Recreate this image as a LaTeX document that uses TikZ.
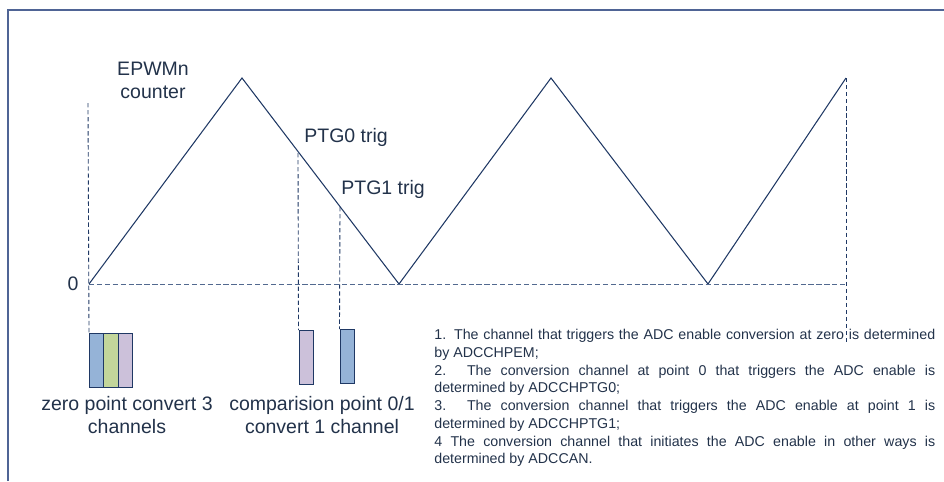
\documentclass[tikz,border=0pt]{standalone}
\usepackage{fontspec}
\setmainfont{Liberation Sans}
\usetikzlibrary{positioning}
\definecolor{navy}{HTML}{1F3864}
\definecolor{txt}{HTML}{22324A}
\definecolor{framec}{HTML}{4F6495}
\definecolor{zeroc}{HTML}{52698F}
\definecolor{chblue}{HTML}{95B3D7}
\definecolor{chgreen}{HTML}{C3D69B}
\definecolor{chlilac}{HTML}{CCC1DA}
\newcommand\nohyphens{\hyphenpenalty=10000 \exhyphenpenalty=10000\relax}

\begin{document}
\begin{tikzpicture}[x=0.02cm, y=-0.02cm, font=\fontsize{11.1}{13}\selectfont, text=txt,
        wave/.style={draw=navy, line width=0.6pt},
        guide/.style={draw=navy, line width=0.5pt, dash pattern=on 2.5pt off 1.5pt},
        chan/.style={draw=navy, line width=0.6pt, minimum width=0.286cm, minimum height=1.08cm, anchor=north west, inner sep=0pt}]
        \useasboundingbox (0,0) rectangle (944,481);
        \draw[framec, line width=0.8pt] (8,481) -- (8,10) -- (944,10);
        % counter wave
        \foreach \n/\x/\y in {z0/89/284,p1/242/78,z1/399/284,p2/551/78,z2/708/284,p3/846/78}{\coordinate (\n) at (\x,\y);}
        \draw[wave] (z0) -- (p1) -- (z1) -- (p2) -- (z2) -- (p3);
        \coordinate (zend) at (p3 |- z0);
        \draw[guide, draw=zeroc, dash pattern=on 3pt off 1.5pt] (z0) -- (zend);
        % trigger points
        \coordinate (top0) at (88,103);
        \coordinate (t0) at (298,153);
        \coordinate (t1) at (340,207);
        \coordinate (tend) at (846,343);
        % converted channels
        \foreach \i/\x/\c in {1/89/chblue,2/103.3/chgreen,3/117.6/chlilac}{\node[chan, fill=\c] (zc\i) at (\x,333) {};}
        \node[chan, fill=chlilac] (pc0) at (298.5,330) {};
        \node[chan, fill=chblue] (pc1) at (339.5,329) {};
        \draw[guide] (top0) -- (zc1.north west);
        \draw[guide] (t0) -- (pc0.north west);
        \draw[guide] (t1) -- (pc1.north west);
        \draw[guide] (p3) -- (tend);
        % labels
        \node[align=center] (epwm) at (153,80) {EPWMn\\counter};
        \node[anchor=west, inner sep=0pt] (ptg0) at (304,137) {PTG0 trig};
        \node[anchor=west, inner sep=0pt] (ptg1) at (341,189) {PTG1 trig};
        \node (zero) at (73,284) {0};
        \node[align=center] (zlabel) at (127,415) {zero point convert 3\\channels};
        \node[align=center] (plabel) at (322,415) {comparision point 0/1\\convert 1 channel};
        \node[anchor=north west, inner sep=0pt, text width=10.02cm, align=justify, font=\fontsize{8.1}{10.1}\selectfont\nohyphens] (notes) at (434,329) {1. The channel that triggers the ADC enable conversion at zero is determined\linebreak by ADCCHPEM;\par
        2. The conversion channel at point 0 that triggers the ADC enable is\linebreak determined by ADCCHPTG0;\par
        3. The conversion channel that triggers the ADC enable at point 1 is\linebreak determined by ADCCHPTG1;\par
        4 The conversion channel that initiates the ADC enable in other ways is\linebreak determined by ADCCAN.};
\end{tikzpicture}
\end{document}
